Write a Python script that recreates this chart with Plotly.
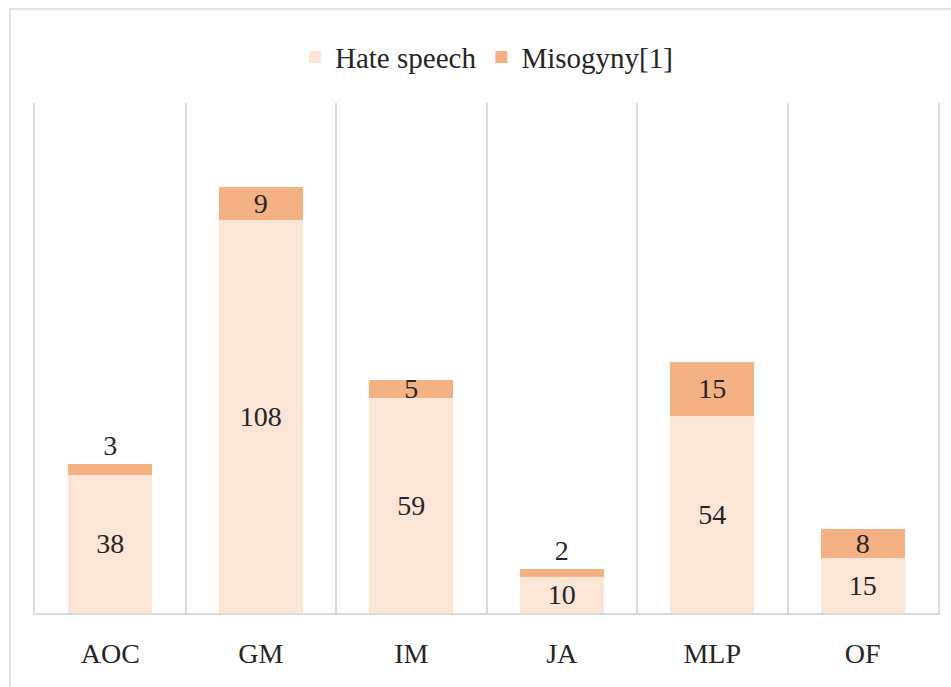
import plotly.graph_objects as go

categories = ["AOC", "GM", "IM", "JA", "MLP", "OF"]
hate_speech = [38, 108, 59, 10, 54, 15]
misogyny = [3, 9, 5, 2, 15, 8]

FONT = "'Times New Roman', 'Liberation Serif', Tinos, 'DejaVu Serif', serif"
TXT = "#262626"

mis_pos = ["outside" if v <= 3 else "inside" for v in misogyny]

fig = go.Figure()
fig.add_trace(go.Bar(
    x=categories, y=hate_speech, name="Hate speech",
    marker=dict(color="#FBE5D6", line=dict(width=0)),
    text=[str(v) for v in hate_speech], textposition="inside", textangle=0,
    insidetextanchor="middle", constraintext="none",
    textfont=dict(family=FONT, size=28, color=TXT),
))
fig.add_trace(go.Bar(
    x=categories, y=misogyny, name="Misogyny[1]",
    marker=dict(color="#F4B183", line=dict(width=0)),
    text=[str(v) for v in misogyny], textposition=mis_pos, textangle=0,
    insidetextanchor="middle", constraintext="none", cliponaxis=False,
    textfont=dict(family=FONT, size=28, color=TXT),
))

fig.update_layout(
    barmode="stack",
    bargap=0.44,
    width=951, height=687,
    margin=dict(l=35, r=13, t=103, b=74),
    paper_bgcolor="white", plot_bgcolor="white",
    font=dict(family=FONT, size=28, color=TXT),
    legend=dict(orientation="h", x=0.5, xanchor="center", y=1.09, yanchor="middle",
                font=dict(family=FONT, size=29, color=TXT), itemwidth=30,
                traceorder="normal"),
    xaxis=dict(type="category", tickson="boundaries", showgrid=True,
               gridcolor="#D9D9D9", gridwidth=1.5, ticks="", showline=True,
               linecolor="#D9D9D9", linewidth=2,
               tickfont=dict(family=FONT, size=28, color=TXT), ticklabelstandoff=14),
    yaxis=dict(range=[0, 140], showgrid=False, showticklabels=False, zeroline=False,
               showline=True, mirror=True, linecolor="#D9D9D9", linewidth=1.5, ticks=""),
    shapes=[dict(type="rect", xref="paper", yref="paper",
                 x0=(10 - 35) / 903, x1=1.05, y0=-0.3, y1=(613 - 9) / 510,
                 line=dict(color="#D9D9D9", width=1.5), fillcolor="rgba(0,0,0,0)", layer="below")],
)

fig.write_html("out.html")
